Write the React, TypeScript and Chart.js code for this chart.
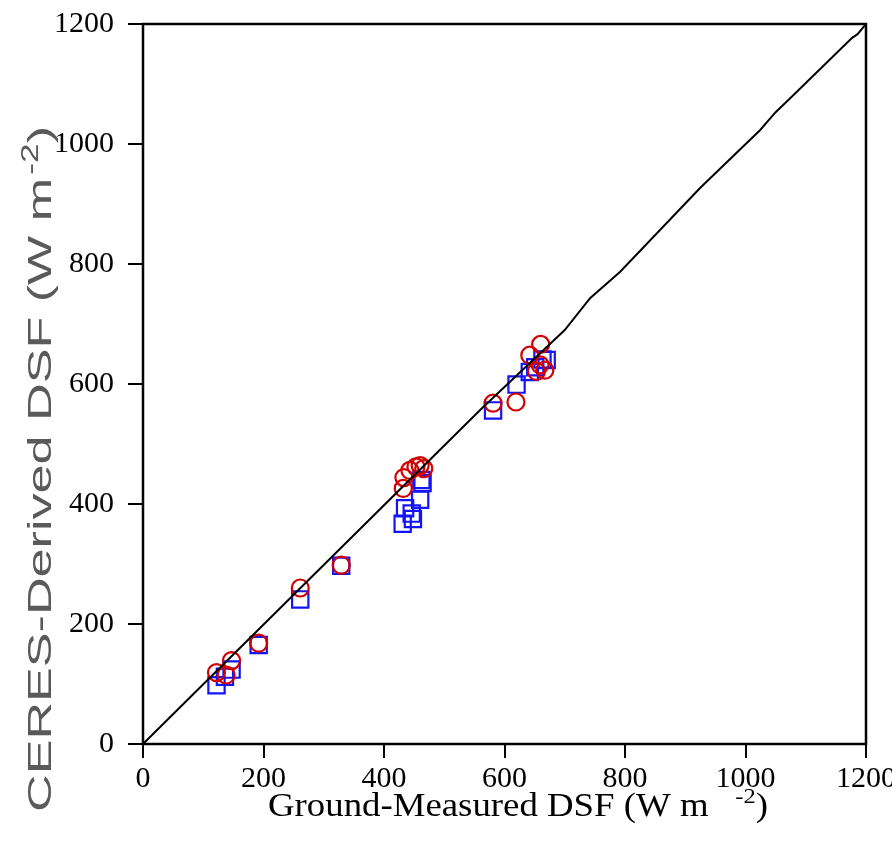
import { useEffect, useRef } from 'react';
import { Chart, registerables } from 'chart.js';

Chart.register(...registerables);

// 1:1 reference line (as drawn, slightly hand-traced)
const lineX = [0, 560, 700, 742, 792, 925, 1024, 1050, 1075, 1177, 1186, 1200];
const lineY = [0, 557, 690, 743, 787, 927, 1023, 1053, 1077, 1177, 1183, 1200];

// Red circles
const circleX = [122, 138, 147, 192, 261, 329, 432, 433, 443, 453, 460, 466, 581, 619, 642, 653, 660, 667, 659];
const circleY = [119, 115, 139, 168, 260, 298, 426, 444, 456, 462, 464, 459, 568, 570, 648, 621, 666, 623, 632];

// Blue squares
const squareX = [122, 136, 147, 192, 261, 329, 431, 435, 446, 448, 460, 464, 462, 581, 620, 642, 651, 663, 670];
const squareY = [98, 112, 124, 165, 241, 297, 367, 393, 384, 375, 407, 435, 440, 556, 599, 620, 628, 641, 640];

const axisMin = 0;
const axisMax = 1200;
const axisStep = 200;

const xTitleMain = 'Ground-Measured DSF (W m';
const yTitleMain = 'CERES-Derived DSF (W m';
const titleSup = '-2';
const titleEnd = ')';

const toPts = (xs: number[], ys: number[]) => xs.map((x, i) => ({ x, y: ys[i] }));

const SERIF = '"Liberation Serif", "Times New Roman", serif';
const SANS = '"Liberation Sans", Arial, sans-serif';

const framePlugin = {
  id: 'frameAndTitles',
  afterDraw(chart: any) {
    const { ctx, chartArea } = chart;
    const { left, right, top, bottom } = chartArea;
    ctx.save();
    ctx.strokeStyle = '#000';
    ctx.lineWidth = 2.5;
    ctx.strokeRect(left, top, right - left, bottom - top);

    // X title with superscript
    ctx.fillStyle = '#000';
    ctx.textBaseline = 'alphabetic';
    ctx.textAlign = 'left';
    const xBase = 816;
    const xStart = 268;
    const xEnd = 768;
    ctx.font = `33px ${SERIF}`;
    const wMain = ctx.measureText(xTitleMain).width;
    const wEnd = ctx.measureText(titleEnd).width;
    ctx.font = `22px ${SERIF}`;
    const wSup = ctx.measureText(titleSup).width;
    const gap = 24;
    const natural = wMain + gap + wSup + wEnd;
    const sx = (xEnd - xStart) / natural;
    ctx.translate(xStart, xBase);
    ctx.scale(sx, 1);
    ctx.font = `33px ${SERIF}`;
    ctx.fillText(xTitleMain, 0, 0);
    ctx.font = `22px ${SERIF}`;
    ctx.fillText(titleSup, wMain + gap, -13);
    ctx.font = `33px ${SERIF}`;
    ctx.fillText(titleEnd, wMain + gap + wSup, 0);
    ctx.restore();

    // Y title (rotated) with superscript
    ctx.save();
    ctx.fillStyle = '#5a5a5a';
    const yStart = 812;
    const yEnd = 126;
    const yBaseX = 51;
    ctx.font = `34px ${SANS}`;
    const ywMain = ctx.measureText(yTitleMain).width;
    const ywEnd = ctx.measureText(titleEnd).width;
    ctx.font = `23px ${SANS}`;
    const ywSup = ctx.measureText(titleSup).width;
    const ygap = 2;
    const ynat = ywMain + ygap + ywSup + ywEnd;
    const sy = (yStart - yEnd) / ynat;
    ctx.translate(yBaseX, yStart);
    ctx.rotate(-Math.PI / 2);
    ctx.scale(sy, 1);
    ctx.textBaseline = 'alphabetic';
    ctx.textAlign = 'left';
    ctx.font = `34px ${SANS}`;
    ctx.fillText(yTitleMain, 0, 0);
    ctx.font = `23px ${SANS}`;
    ctx.fillText(titleSup, ywMain + ygap, -13);
    ctx.font = `34px ${SANS}`;
    ctx.fillText(titleEnd, ywMain + ygap + ywSup, 0);
    ctx.restore();
  },
};

const tickFont = { family: SERIF, size: 30, weight: 'normal' as const };
const fmt = (v: any) => String(v);

export default function App() {
  const ref = useRef<HTMLCanvasElement>(null);
  useEffect(() => {
    document.body.style.margin = '0';
    const canvas = ref.current!;
    const chart = new Chart(canvas, {
      type: 'scatter',
      data: {
        datasets: [
          {
            type: 'line',
            data: toPts(lineX, lineY),
            borderColor: '#000',
            borderWidth: 2,
            pointRadius: 0,
            fill: false,
            tension: 0,
          } as any,
          {
            data: toPts(circleX, circleY),
            pointStyle: 'circle',
            pointRadius: 8.5,
            pointBorderWidth: 2.2,
            borderColor: 'rgb(210,0,0)',
            backgroundColor: 'rgba(0,0,0,0)',
            pointBackgroundColor: 'rgba(0,0,0,0)',
            pointBorderColor: 'rgb(210,0,0)',
          },
          {
            data: toPts(squareX, squareY),
            pointStyle: 'rect',
            pointRadius: 11.5,
            pointBorderWidth: 2.2,
            borderColor: 'rgb(20,20,250)',
            backgroundColor: 'rgba(0,0,0,0)',
            pointBackgroundColor: 'rgba(0,0,0,0)',
            pointBorderColor: 'rgb(20,20,250)',
          },
        ],
      },
      options: {
        responsive: false,
        animation: false,
        devicePixelRatio: 1,
        layout: { padding: { top: 24, right: 26, left: 0, bottom: 0 } },
        plugins: {
          legend: { display: false },
          tooltip: { enabled: false },
          title: { display: false },
        },
        scales: {
          x: {
            type: 'linear',
            min: axisMin,
            max: axisMax,
            ticks: {
              stepSize: axisStep,
              color: '#000',
              font: tickFont,
              padding: 3,
              maxRotation: 0,
              callback: fmt,
            },
            grid: {
              drawOnChartArea: false,
              drawTicks: true,
              tickLength: 14,
              color: '#000',
              lineWidth: 2,
            },
            border: { display: false },
            afterFit: (s: any) => {
              s.height = 101;
              s.paddingLeft = 0;
              s.paddingRight = 0;
            },
          },
          y: {
            type: 'linear',
            min: axisMin,
            max: axisMax,
            ticks: {
              stepSize: axisStep,
              color: '#000',
              font: tickFont,
              padding: 14,
              callback: fmt,
            },
            grid: {
              drawOnChartArea: false,
              drawTicks: true,
              tickLength: 15,
              color: '#000',
              lineWidth: 2,
            },
            border: { display: false },
            afterFit: (s: any) => {
              s.width = 143;
              s.paddingTop = 0;
              s.paddingBottom = 0;
            },
          },
        },
      },
      plugins: [framePlugin],
    });
    return () => chart.destroy();
  }, []);
  return (
    <div style={{ width: 892, height: 845 }}>
      <canvas ref={ref} width={892} height={845} style={{ display: 'block', width: 892, height: 845 }} />
    </div>
  );
}
